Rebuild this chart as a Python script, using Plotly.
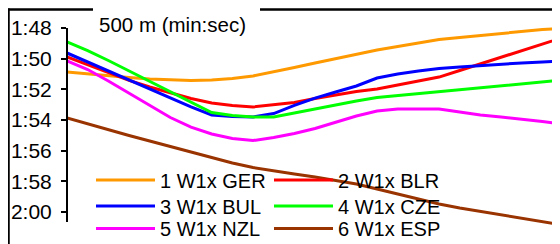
import plotly.graph_objects as go

# ---- data (seconds per 500 m) ----
split_index = list(range(25))

crews = ["1 W1x GER", "2 W1x BLR", "3 W1x BUL", "4 W1x CZE", "5 W1x NZL", "6 W1x ESP"]

ger = [110.87, 111.00, 111.13, 111.23, 111.33, 111.39, 111.42, 111.39, 111.29, 111.13,
       110.87, 110.58, 110.28, 109.99, 109.70, 109.43, 109.21, 108.98, 108.75, 108.62,
       108.49, 108.36, 108.23, 108.10, 108.03]
blr = [109.89, 110.41, 110.93, 111.42, 111.85, 112.24, 112.60, 112.89, 113.05, 113.15,
       113.02, 112.86, 112.60, 112.37, 112.14, 111.98, 111.72, 111.46, 111.20, 110.77,
       110.35, 109.92, 109.50, 109.04, 108.62]
bul = [109.63, 110.22, 110.80, 111.39, 111.98, 112.57, 113.15, 113.67, 113.77, 113.80,
       113.58, 113.05, 112.57, 112.17, 111.78, 111.26, 111.00, 110.80, 110.64, 110.54,
       110.45, 110.35, 110.28, 110.22, 110.15]
cze = [108.91, 109.47, 110.12, 110.80, 111.49, 112.17, 112.86, 113.51, 113.71, 113.80,
       113.80, 113.54, 113.25, 113.02, 112.76, 112.53, 112.40, 112.27, 112.14, 112.01,
       111.88, 111.75, 111.65, 111.52, 111.39]
nzl = [110.15, 110.71, 111.46, 112.26, 113.05, 113.84, 114.46, 114.91, 115.21, 115.34,
       115.14, 114.88, 114.55, 114.13, 113.74, 113.41, 113.28, 113.28, 113.28, 113.48,
       113.67, 113.80, 113.93, 114.10, 114.26]
esp = [113.87, 114.26, 114.62, 115.01, 115.37, 115.73, 116.09, 116.45, 116.80, 117.10,
       117.33, 117.52, 117.72, 117.95, 118.17, 118.50, 118.83, 119.15, 119.48, 119.74,
       119.97, 120.20, 120.42, 120.65, 120.85]

tick_vals = [108, 110, 112, 114, 116, 118, 120]
tick_text = ["1:48", "1:50", "1:52", "1:54", "1:56", "1:58", "2:00"]
title_text = "500 m (min:sec)"

series = [ger, blr, bul, cze, nzl, esp]
colors = ["#FF9900", "#FF0000", "#0000FF", "#00FF00", "#FF00FF", "#993300"]

# ---- layout geometry (figure pixels; the page adds an 8 px body margin) ----
W, H = 560, 244
L, R, T, B = 59, 0, 12, 0
PW, PH = W - L - R, H - T - B
Y_TOP_VAL, Y_TOP_PX, PX_PER_SEC = 108, 20, 15.333
X_STEP_PX = 20.67
FONT = "Liberation Sans, Arial, sans-serif"

def px_x(px):
    return (px - L) / PW

def px_y(py):
    return (H - B - py) / PH

fig = go.Figure()
legend_names = ["legend", "legend2", "legend3", "legend4", "legend5", "legend6"]
for name, ys, col, lg in zip(crews, series, colors, legend_names):
    fig.add_trace(go.Scatter(x=split_index, y=ys, mode="lines", name=name,
                             line=dict(color=col, width=3), legend=lg))

# legends: 2 columns x 3 rows
col_x = [83, 261]
row_y = [172, 198, 220.5]
legend_layout = {}
for k, lg in enumerate(legend_names):
    legend_layout[lg] = dict(
        x=px_x(col_x[k % 2]), y=px_y(row_y[k // 2]), xanchor="left", yanchor="middle",
        bgcolor="rgba(0,0,0,0)", borderwidth=0, itemwidth=59,
        font=dict(family=FONT, size=20, color="black"),
    )

fig.update_layout(
    width=W, height=H,
    margin=dict(l=L, r=R, t=T, b=B, pad=0),
    paper_bgcolor="white", plot_bgcolor="white",
    showlegend=True,
    xaxis=dict(visible=False, range=[0, PW / X_STEP_PX], showgrid=False, zeroline=False),
    yaxis=dict(range=[Y_TOP_VAL + (H - B - Y_TOP_PX) / PX_PER_SEC,
                      Y_TOP_VAL - (Y_TOP_PX - T) / PX_PER_SEC],
               tickvals=tick_vals, ticktext=tick_text,
               ticks="outside", ticklen=5, tickwidth=2, tickcolor="black",
               showline=False, showgrid=False, zeroline=False,
               ticklabelstandoff=5, automargin=False,
               tickfont=dict(family=FONT, size=21, color="black")),
    **legend_layout,
)

# y axis line (only over the value range)
fig.add_shape(type="line", xref="paper", yref="y", x0=0, x1=0, y0=108, y1=120.65,
              line=dict(color="black", width=2))
# outer frame (left + top, broken by the title)
fig.add_shape(type="line", xref="paper", yref="paper", x0=px_x(0.75), x1=px_x(0.75),
              y0=px_y(0.5), y1=px_y(H + 2), line=dict(color="black", width=2))
fig.add_shape(type="line", xref="paper", yref="paper", x0=px_x(0), x1=px_x(85),
              y0=px_y(1.5), y1=px_y(1.5), line=dict(color="black", width=2.4))
fig.add_shape(type="line", xref="paper", yref="paper", x0=px_x(252), x1=px_x(W + 2),
              y0=px_y(1.5), y1=px_y(1.5), line=dict(color="black", width=2.4))

fig.add_annotation(text=title_text, xref="paper", yref="paper",
                   x=px_x(89), y=px_y(16), xanchor="left", yanchor="middle",
                   showarrow=False, font=dict(family=FONT, size=20.5, color="black"))

fig.write_html("out.html")
